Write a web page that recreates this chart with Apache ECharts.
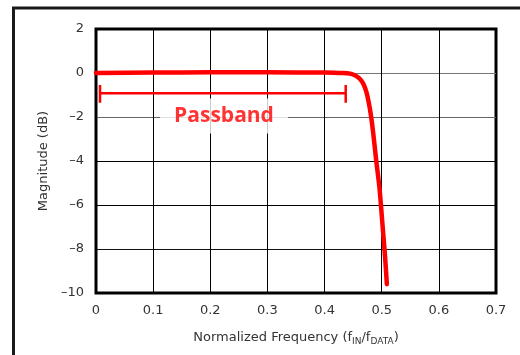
<!DOCTYPE html>
<html>
<head>
    <meta charset="utf-8">
    <title>Passband</title>
    <script src="https://cdn.jsdelivr.net/npm/echarts@6/dist/echarts.min.js"></script>
    <style>
        body { margin: 0; background: #fff; }
    </style>
</head>
<body>
    <div id="main" style="width:520px;height:355px;"></div>
    <script type="text/javascript">
        // response
        var freq = [0, 0.1, 0.2, 0.3, 0.4, 0.43, 0.44, 0.448, 0.455, 0.462, 0.468, 0.473, 0.477, 0.481, 0.485, 0.49, 0.496, 0.502, 0.506, 0.509];
        var magnitude = [0, 0.02, 0.03, 0.03, 0.02, 0, -0.01, -0.05, -0.13, -0.27, -0.5, -0.85, -1.3, -1.9, -2.7, -3.9, -5.2, -7.1, -8.4, -9.6];

        // passband bracket
        var passbandFreq = [0.007, 0.437];
        var passbandLevel = -0.92;
        var capLevels = [-0.55, -1.35];
        var passbandLabel = 'Passband';
        var labelAt = [0.224, -1.95];

        var xTicks = [0, 0.1, 0.2, 0.3, 0.4, 0.5, 0.6, 0.7];
        var yTicks = [-10, -8, -6, -4, -2, 0, 2];

        var curve = freq.map(function (f, i) { return [f, magnitude[i]]; });
        var bracket = passbandFreq.map(function (f) { return [f, passbandLevel]; });
        var leftCap = capLevels.map(function (v) { return [passbandFreq[0], v]; });
        var rightCap = capLevels.map(function (v) { return [passbandFreq[1], v]; });

        var chart = echarts.init(document.getElementById('main'));

        var labelFont = 'DejaVu Sans, sans-serif';

        chart.setOption({
            animation: false,
            graphic: [{
                type: 'rect',
                shape: { x: 13.5, y: 8, width: 600, height: 500 },
                style: { fill: null, stroke: '#1a1a1a', lineWidth: 3 },
                z: 100
            }],
            grid: {
                left: 96, top: 29, right: 24, bottom: 62,
                show: true,
                borderColor: '#000',
                borderWidth: 3,
                backgroundColor: '#fff'
            },
            xAxis: {
                type: 'value',
                min: xTicks[0],
                max: xTicks[xTicks.length - 1],
                interval: 0.1,
                axisLine: { show: false },
                axisTick: { show: false },
                axisLabel: {
                    color: '#333', fontSize: 13, fontFamily: labelFont, margin: 11,
                    formatter: function (v) { return v === 0 ? '0' : v.toFixed(1); }
                },
                splitLine: { show: true, lineStyle: { color: '#000', width: 1 } },
                name: 'Normalized Frequency (f{sub|IN}/f{sub|DATA})',
                nameLocation: 'middle',
                nameGap: 36,
                nameTextStyle: {
                    color: '#333', fontSize: 13, fontFamily: labelFont,
                    rich: {
                        sub: { fontSize: 9, fontFamily: labelFont, color: '#333', padding: [8, 0, 0, 0] }
                    }
                }
            },
            yAxis: {
                type: 'value',
                min: yTicks[0],
                max: yTicks[yTicks.length - 1],
                interval: 2,
                axisLine: { show: false },
                axisTick: { show: false },
                axisLabel: {
                    color: '#333', fontSize: 13, fontFamily: labelFont, margin: 12,
                    formatter: function (v) { return v < 0 ? '\u2013' + Math.abs(v) : String(v); }
                },
                splitLine: {
                    show: true,
                    lineStyle: { color: ['#000', '#111', '#000', '#000', '#666', '#777', '#000'], width: 1 }
                },
                name: 'Magnitude (dB)',
                nameLocation: 'middle',
                nameGap: 44,
                nameTextStyle: { color: '#333', fontSize: 13, fontFamily: labelFont }
            },
            series: [{
                type: 'line',
                data: bracket,
                showSymbol: false,
                lineStyle: { color: '#ff0000', width: 2.5 }
            }, {
                type: 'line',
                data: leftCap,
                showSymbol: false,
                lineStyle: { color: '#ff0000', width: 2.5 }
            }, {
                type: 'line',
                data: rightCap,
                showSymbol: false,
                lineStyle: { color: '#ff0000', width: 2.5 }
            }, {
                type: 'scatter',
                data: [labelAt],
                symbolSize: 0,
                label: {
                    show: true,
                    position: 'inside',
                    formatter: passbandLabel,
                    color: '#ff0000',
                    fontSize: 21,
                    fontWeight: 'bold',
                    fontFamily: 'Open Sans, sans-serif',
                    backgroundColor: '#fff',
                    padding: [7, 14]
                }
            }, {
                type: 'line',
                data: curve,
                smooth: 0.25,
                showSymbol: false,
                lineStyle: { color: '#ff0000', width: 4.5, cap: 'round', join: 'round' }
            }]
        });
    </script>
</body>
</html>
